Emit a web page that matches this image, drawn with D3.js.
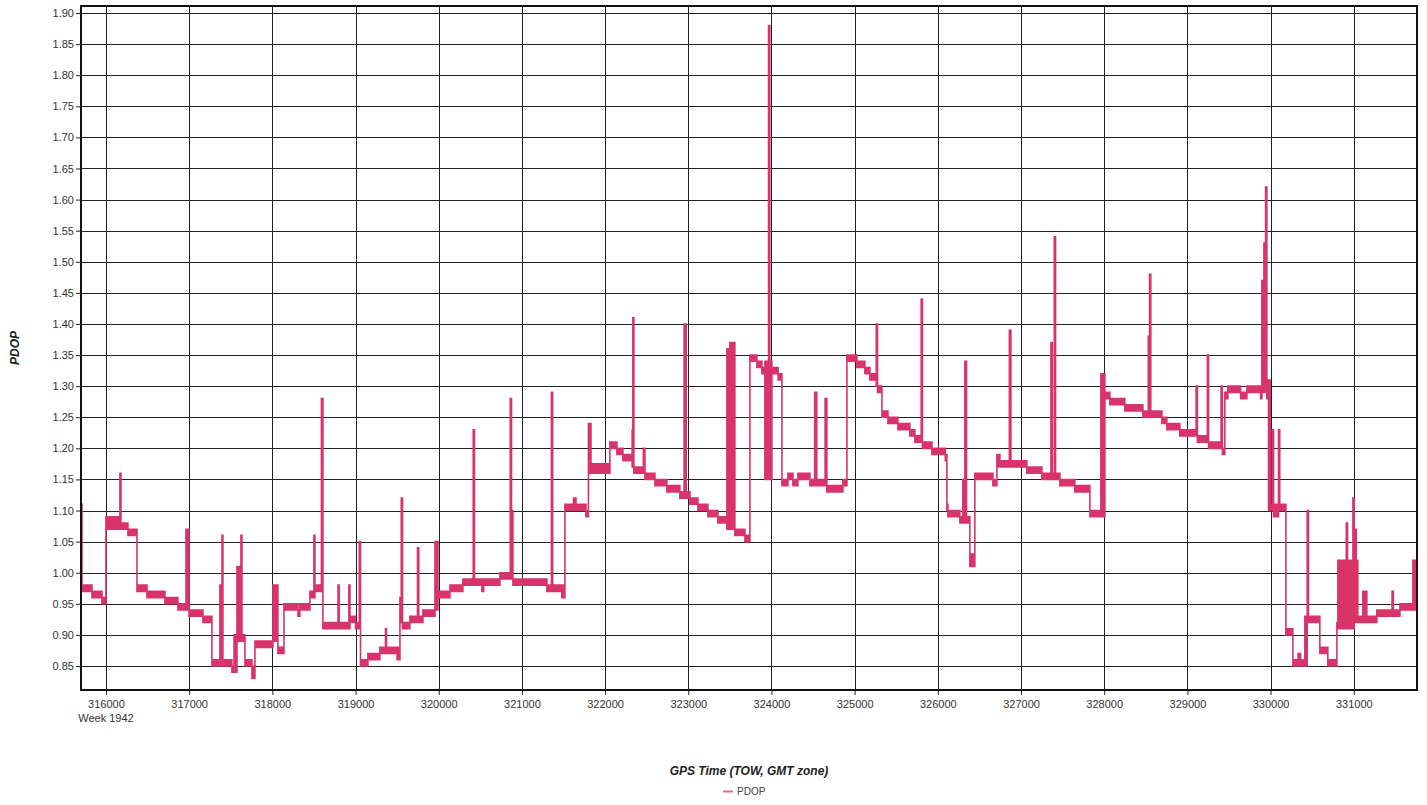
<!DOCTYPE html>
<html>
<head>
<meta charset="utf-8">
<script src="https://cdn.jsdelivr.net/npm/d3@7"></script>
<style>
  body { margin: 0; background: #fff; }
  svg { display: block; font-family: "Liberation Sans", Arial, sans-serif; }
</style>
</head>
<body>
<svg id="chart" width="1427" height="805"></svg>
<script>
// PDOP steps: [TOW seconds, low, high] -- band from low to high until next TOW
const pdopSteps = [
  [315700, 0.98, 1.11], [315712, 0.97, 0.98], [315832, 0.96, 0.97], [315952, 0.95, 0.96],
  [316000, 1.07, 1.09], [316168, 1.07, 1.16], [316180, 1.07, 1.08], [316264, 1.06, 1.07],
  [316373, 0.97, 0.98], [316493, 0.96, 0.97], [316709, 0.95, 0.96], [316865, 0.94, 0.95],
  [316962, 0.94, 1.07], [316998, 0.93, 0.94], [317166, 0.92, 0.93], [317274, 0.85, 0.86],
  [317370, 0.85, 0.98], [317395, 0.85, 1.06], [317406, 0.85, 0.86], [317514, 0.84, 0.85],
  [317540, 0.85, 0.90], [317560, 0.84, 0.86], [317575, 0.89, 1.01], [317623, 0.89, 1.06],
  [317635, 0.89, 0.90], [317671, 0.85, 0.86], [317755, 0.83, 0.85], [317791, 0.88, 0.89],
  [318007, 0.89, 0.98], [318067, 0.87, 0.88], [318140, 0.94, 0.95], [318308, 0.93, 0.94],
  [318330, 0.94, 0.95], [318452, 0.96, 0.97], [318500, 0.96, 1.06], [318512, 0.97, 0.98],
  [318590, 0.97, 1.28], [318608, 0.91, 0.92], [318790, 0.91, 0.98], [318803, 0.91, 0.92],
  [318920, 0.91, 0.98], [318933, 0.92, 0.93], [319000, 0.91, 0.92], [319045, 0.91, 1.05],
  [319060, 0.85, 0.86], [319149, 0.86, 0.87], [319293, 0.87, 0.88], [319360, 0.87, 0.91],
  [319372, 0.87, 0.88], [319500, 0.86, 0.88], [319534, 0.92, 0.96], [319550, 0.92, 1.12],
  [319565, 0.91, 0.92], [319654, 0.92, 0.93], [319745, 0.92, 1.04], [319760, 0.92, 0.93],
  [319810, 0.93, 0.94], [319955, 0.94, 1.05], [319991, 0.96, 0.97], [320135, 0.97, 0.98],
  [320291, 0.98, 0.99], [320415, 0.98, 1.23], [320430, 0.98, 0.99], [320520, 0.97, 0.99],
  [320540, 0.98, 0.99], [320736, 0.99, 1.00], [320860, 0.99, 1.28], [320875, 0.99, 1.10],
  [320892, 0.98, 0.99], [321301, 0.97, 0.98], [321355, 0.97, 1.29], [321370, 0.97, 0.98],
  [321480, 0.96, 0.98], [321517, 1.10, 1.11], [321620, 1.10, 1.12], [321650, 1.10, 1.11],
  [321770, 1.09, 1.10], [321800, 1.16, 1.24], [321830, 1.16, 1.175], [322040, 1.16, 1.165],
  [322058, 1.20, 1.21], [322142, 1.19, 1.20], [322214, 1.18, 1.19], [322325, 1.17, 1.23],
  [322334, 1.17, 1.41], [322346, 1.16, 1.17], [322460, 1.16, 1.20], [322479, 1.15, 1.16],
  [322599, 1.14, 1.15], [322743, 1.13, 1.14], [322899, 1.12, 1.13], [322950, 1.12, 1.40],
  [322975, 1.12, 1.13], [323020, 1.11, 1.12], [323116, 1.10, 1.11], [323236, 1.09, 1.10],
  [323356, 1.08, 1.09], [323464, 1.07, 1.36], [323500, 1.07, 1.37], [323560, 1.06, 1.07],
  [323681, 1.05, 1.06], [323741, 1.34, 1.35], [323825, 1.33, 1.34], [323885, 1.32, 1.33],
  [323921, 1.15, 1.34], [323965, 1.15, 1.88], [323980, 1.15, 1.34], [324005, 1.32, 1.33],
  [324080, 1.31, 1.32], [324126, 1.14, 1.15], [324198, 1.15, 1.16], [324258, 1.14, 1.15],
  [324318, 1.15, 1.16], [324462, 1.14, 1.15], [324520, 1.14, 1.29], [324545, 1.14, 1.15],
  [324645, 1.14, 1.28], [324666, 1.13, 1.14], [324859, 1.14, 1.15], [324907, 1.34, 1.35],
  [325027, 1.33, 1.34], [325123, 1.32, 1.33], [325183, 1.31, 1.32], [325260, 1.30, 1.40],
  [325275, 1.29, 1.30], [325328, 1.25, 1.26], [325400, 1.24, 1.25], [325520, 1.23, 1.24],
  [325664, 1.22, 1.23], [325724, 1.21, 1.22], [325800, 1.21, 1.44], [325815, 1.20, 1.21],
  [325929, 1.19, 1.20], [326090, 1.18, 1.19], [326109, 1.10, 1.11], [326121, 1.09, 1.10],
  [326265, 1.08, 1.09], [326300, 1.08, 1.15], [326325, 1.08, 1.34], [326345, 1.08, 1.09],
  [326385, 1.01, 1.03], [326445, 1.15, 1.16], [326662, 1.14, 1.15], [326710, 1.17, 1.19],
  [326746, 1.17, 1.18], [326860, 1.17, 1.39], [326878, 1.17, 1.18], [327070, 1.16, 1.17],
  [327251, 1.15, 1.16], [327360, 1.15, 1.37], [327375, 1.15, 1.16], [327400, 1.15, 1.54],
  [327415, 1.15, 1.16], [327467, 1.14, 1.15], [327647, 1.13, 1.14], [327828, 1.09, 1.10],
  [327960, 1.09, 1.32], [328008, 1.28, 1.29], [328068, 1.27, 1.28], [328248, 1.26, 1.27],
  [328465, 1.25, 1.26], [328530, 1.25, 1.38], [328545, 1.25, 1.48], [328560, 1.25, 1.26],
  [328693, 1.24, 1.25], [328753, 1.23, 1.24], [328909, 1.22, 1.23], [329105, 1.22, 1.30],
  [329120, 1.21, 1.22], [329240, 1.21, 1.35], [329255, 1.20, 1.21], [329405, 1.20, 1.30],
  [329420, 1.19, 1.20], [329450, 1.28, 1.29], [329486, 1.29, 1.30], [329640, 1.28, 1.29],
  [329715, 1.29, 1.30], [329880, 1.28, 1.30], [329895, 1.29, 1.47], [329920, 1.29, 1.53],
  [329940, 1.29, 1.62], [329955, 1.28, 1.31], [329975, 1.10, 1.31], [329995, 1.10, 1.11],
  [330020, 1.10, 1.23], [330035, 1.09, 1.11], [330095, 1.10, 1.23], [330110, 1.10, 1.11],
  [330184, 0.90, 0.91], [330268, 0.85, 0.86], [330330, 0.85, 0.87], [330360, 0.85, 0.86],
  [330412, 0.85, 0.93], [330440, 0.92, 1.10], [330455, 0.92, 0.93], [330592, 0.87, 0.88],
  [330688, 0.85, 0.86], [330797, 0.91, 0.92], [330809, 0.91, 1.02], [330910, 0.91, 1.08],
  [330925, 0.91, 1.02], [330990, 0.91, 1.12], [331005, 0.92, 1.07], [331030, 0.92, 1.02],
  [331049, 0.92, 0.93], [331109, 0.92, 0.97], [331157, 0.92, 0.93], [331277, 0.93, 0.94],
  [331460, 0.93, 0.97], [331475, 0.93, 0.94], [331555, 0.94, 0.95], [331711, 0.94, 1.02],
  [331740, 0.98, 0.99], [331760, 0.98, 0.99]
];

const xTickValues = [316000, 317000, 318000, 319000, 320000, 321000, 322000, 323000,
                     324000, 325000, 326000, 327000, 328000, 329000, 330000, 331000];
const yTickValues = [0.85, 0.90, 0.95, 1.00, 1.05, 1.10, 1.15, 1.20, 1.25, 1.30, 1.35,
                     1.40, 1.45, 1.50, 1.55, 1.60, 1.65, 1.70, 1.75, 1.80, 1.85, 1.90];
const weekLabel = "Week 1942";
const xTitle = "GPS Time (TOW, GMT zone)";
const yTitle = "PDOP";
const seriesName = "PDOP";

const lineColor = "#d8346a";
const svg = d3.select("#chart");
const plot = {left: 81, right: 1417, top: 6, bottom: 690};

// scales
const x = d3.scaleLinear().domain([315700, 331760]).range([plot.left, plot.right]);
const y = d3.scaleLinear().domain([0.8114, 1.9113]).range([plot.bottom, plot.top]);

svg.append("rect").attr("width", 1427).attr("height", 805).attr("fill", "#fff");

// gridlines
const grid = svg.append("g").attr("shape-rendering", "crispEdges");
grid.selectAll("line.h").data(yTickValues).enter()
  .append("line").attr("class", "h")
  .attr("x1", plot.left).attr("x2", plot.right)
  .attr("y1", d => Math.round(y(d)) + 0.5).attr("y2", d => Math.round(y(d)) + 0.5)
  .style("stroke", "#222").style("stroke-width", 1);
grid.selectAll("line.v").data(xTickValues).enter()
  .append("line").attr("class", "v")
  .attr("y1", plot.top).attr("y2", plot.bottom)
  .attr("x1", d => Math.round(x(d)) + 0.5).attr("x2", d => Math.round(x(d)) + 0.5)
  .style("stroke", "#222").style("stroke-width", 1);

// series
svg.append("clipPath").attr("id", "clip")
  .append("rect").attr("x", plot.left).attr("y", plot.top)
  .attr("width", plot.right - plot.left).attr("height", plot.bottom - plot.top);

const area = d3.area()
  .curve(d3.curveStepAfter)
  .x(d => x(d[0]))
  .y0(d => y(d[1]))
  .y1(d => y(d[2]));

svg.append("path")
  .datum(pdopSteps)
  .attr("clip-path", "url(#clip)")
  .attr("d", area)
  .style("fill", lineColor)
  .style("stroke", lineColor)
  .style("stroke-width", 1.6)
  .style("stroke-linejoin", "miter");

// axes
const axisY = d3.axisLeft(y).tickValues(yTickValues).tickFormat(d3.format(".2f"))
  .tickSize(5).tickPadding(2);
const gy = svg.append("g").attr("transform", `translate(${plot.left},0)`).call(axisY);
const axisX = d3.axisBottom(x).tickValues(xTickValues).tickFormat(d3.format("d"))
  .tickSize(5).tickPadding(5);
const gx = svg.append("g").attr("transform", `translate(0,${plot.bottom})`).call(axisX);
[gx, gy].forEach(g => {
  g.select(".domain").remove();
  g.selectAll("line").style("stroke", "#222");
  g.selectAll("text").style("font-size", "11px").style("fill", "#333")
    .style("font-family", "'Liberation Sans', Arial, sans-serif");
});

svg.append("text")
  .attr("x", x(316000)).attr("y", 722)
  .attr("text-anchor", "middle")
  .style("font-size", "11px").style("fill", "#333")
  .text(weekLabel);

// frame
svg.append("rect")
  .attr("x", plot.left).attr("y", plot.top)
  .attr("width", plot.right - plot.left).attr("height", plot.bottom - plot.top)
  .style("fill", "none").style("stroke", "#111").style("stroke-width", 2);

// titles
svg.append("text")
  .attr("x", (plot.left + plot.right) / 2).attr("y", 775)
  .attr("text-anchor", "middle")
  .style("font-size", "12px").style("font-weight", "bold").style("font-style", "italic")
  .style("fill", "#222")
  .text(xTitle);

svg.append("text")
  .attr("transform", `translate(19,${(plot.top + plot.bottom) / 2}) rotate(-90)`)
  .attr("text-anchor", "middle")
  .style("font-size", "12px").style("font-weight", "bold").style("font-style", "italic")
  .style("fill", "#222")
  .text(yTitle);

// legend
const legend = svg.append("g").attr("transform", "translate(723,795)");
legend.append("line").attr("x1", 0).attr("x2", 10).attr("y1", -3.5).attr("y2", -3.5)
  .style("stroke", lineColor).style("stroke-width", 2).style("opacity", 0.75);
legend.append("text").attr("x", 14).attr("y", 0)
  .style("font-size", "10px").style("fill", "#444")
  .text(seriesName);
</script>
</body>
</html>
